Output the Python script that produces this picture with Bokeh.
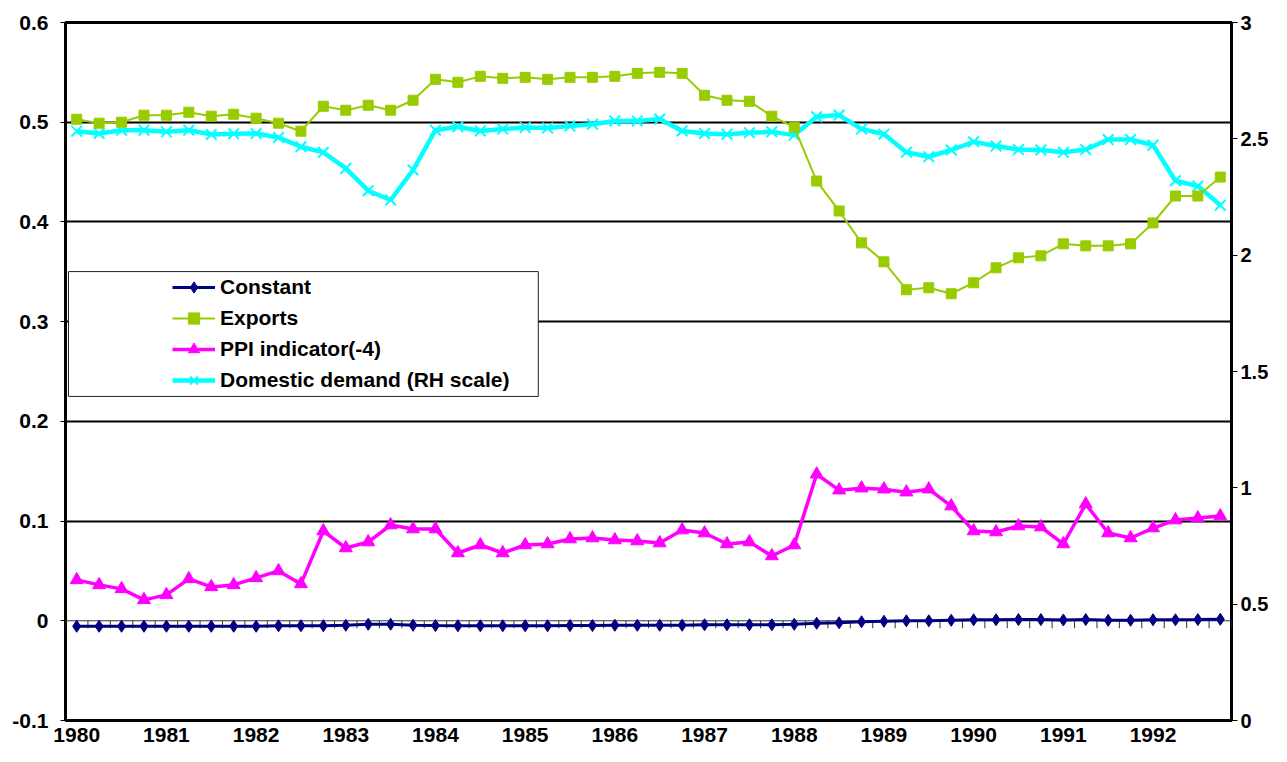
from bokeh.plotting import figure
from bokeh.models import (Range1d, LinearAxis, FixedTicker, Span, Legend, LegendItem)
from bokeh.embed import file_html
from bokeh.resources import INLINE

# ---------------- data ----------------
years = [str(y) for y in range(1980, 1993)]
quarters = [f"{y}Q{q}" for y in range(1980, 1993) for q in range(1, 5)]

constant = [-0.0055, -0.0055, -0.0055, -0.0055, -0.0055, -0.0055, -0.0055, -0.0055, -0.0055,
            -0.005, -0.005, -0.005, -0.0045, -0.0035, -0.0035, -0.0045, -0.0048,
            -0.005, -0.005, -0.005, -0.005, -0.005, -0.0048, -0.0048,
            -0.0045, -0.0045, -0.0045, -0.0045, -0.004, -0.004, -0.004, -0.004,
            -0.0035, -0.0025, -0.002, -0.001, -0.0005, 0.0, 0.0, 0.0005,
            0.001, 0.001, 0.0012, 0.0012, 0.0008, 0.0012, 0.0005, 0.0005,
            0.001, 0.001, 0.0012, 0.0015]

exports = [0.503, 0.499, 0.500, 0.507, 0.507, 0.510, 0.506, 0.508, 0.504, 0.499, 0.491, 0.516,
           0.512, 0.517, 0.512, 0.522, 0.543, 0.540, 0.546, 0.544, 0.545, 0.543, 0.545, 0.545,
           0.546, 0.549, 0.550, 0.549, 0.527, 0.522, 0.521, 0.506, 0.495, 0.441, 0.411, 0.379,
           0.360, 0.332, 0.334, 0.328, 0.339, 0.354, 0.364, 0.366, 0.378, 0.376, 0.376, 0.378,
           0.399, 0.426, 0.426, 0.445]

ppi = [0.041, 0.036, 0.032, 0.021, 0.026, 0.042, 0.034, 0.036, 0.043, 0.050, 0.037,
       0.090, 0.073, 0.079, 0.096, 0.092, 0.092,
       0.068, 0.076, 0.068, 0.076, 0.077, 0.082, 0.083, 0.081, 0.080, 0.078,
       0.091, 0.088, 0.077, 0.079, 0.065, 0.076,
       0.147, 0.131, 0.133, 0.132, 0.129, 0.132, 0.115,
       0.090, 0.089, 0.095, 0.094, 0.077, 0.117, 0.088, 0.083, 0.093, 0.101, 0.103, 0.105]

domestic = [2.533, 2.523, 2.537, 2.537, 2.530, 2.537, 2.519, 2.522, 2.523, 2.506, 2.466, 2.442,
            2.373, 2.277, 2.237, 2.366, 2.537, 2.552,
            2.534, 2.542, 2.549, 2.547, 2.555, 2.563, 2.577, 2.577, 2.585, 2.534, 2.523, 2.520,
            2.526, 2.530, 2.516, 2.595, 2.602, 2.542, 2.520,
            2.442, 2.423, 2.452, 2.487, 2.469, 2.454, 2.452, 2.442, 2.454, 2.497, 2.497, 2.473,
            2.320, 2.297, 2.215]

left_ticks = [-0.1, 0.0, 0.1, 0.2, 0.3, 0.4, 0.5, 0.6]
left_labels = ["-0.1", "0", "0.1", "0.2", "0.3", "0.4", "0.5", "0.6"]
right_ticks = [0.0, 0.5, 1.0, 1.5, 2.0, 2.5, 3.0]
right_labels = ["0", "0.5", "1", "1.5", "2", "2.5", "3"]

labels = ["Constant", "Exports", "PPI indicator(-4)", "Domestic demand (RH scale)"]
colors = ["#000080", "#99CC00", "#FF00FF", "#00FFFF"]

# ---------------- figure ----------------
x = list(range(len(quarters)))
n = len(quarters)

FONT = "Liberation Sans"
FS = "21px"

p = figure(width=1271, height=746, output_backend="svg", toolbar_location=None,
           x_range=Range1d(-0.5, n - 0.5), y_range=Range1d(left_ticks[0], left_ticks[-1]),
           min_border_left=65, min_border_right=37, min_border_top=22, min_border_bottom=26)
p.extra_y_ranges = {"rh": Range1d(right_ticks[0], right_ticks[-1])}

p.background_fill_color = "white"
p.border_fill_color = "white"
p.outline_line_color = "black"
p.outline_line_width = 3

# grid
p.xgrid.visible = False
p.ygrid.ticker = FixedTicker(ticks=left_ticks[2:-1])
p.ygrid.grid_line_color = "black"
p.ygrid.grid_line_width = 2

# left axis
ya = p.yaxis[0]
ya.ticker = FixedTicker(ticks=left_ticks)
ya.major_label_overrides = dict(zip(left_ticks, left_labels))
ya.axis_line_color = None
ya.major_tick_out = 5
ya.major_tick_in = 0
ya.major_tick_line_color = "black"
ya.minor_tick_line_color = None
ya.major_label_standoff = 12
ya.major_label_text_font = FONT
ya.major_label_text_font_style = "bold"
ya.major_label_text_font_size = FS
ya.major_label_text_color = "black"

# right axis
ra = LinearAxis(y_range_name="rh", ticker=FixedTicker(ticks=right_ticks))
ra.major_label_overrides = dict(zip(right_ticks, right_labels))
ra.axis_line_color = None
ra.major_tick_out = 6
ra.major_tick_in = 0
ra.major_tick_line_color = "black"
ra.minor_tick_line_color = None
ra.major_label_standoff = 3
ra.major_label_text_font = FONT
ra.major_label_text_font_style = "bold"
ra.major_label_text_font_size = "20px"
ra.major_label_text_color = "black"
p.add_layout(ra, "right")

# bottom axis (year labels)
year_pos = [i for i, q in enumerate(quarters) if q.endswith("Q1")]
xa = p.xaxis[0]
xa.ticker = FixedTicker(ticks=year_pos)
xa.major_label_overrides = dict(zip(year_pos, years))
xa.axis_line_color = None
xa.major_tick_line_color = None
xa.major_tick_out = 0
xa.major_tick_in = 0
xa.minor_tick_line_color = None
xa.major_label_standoff = 7
xa.major_label_text_line_height = 0.8
xa.major_label_text_font = FONT
xa.major_label_text_font_style = "bold"
xa.major_label_text_font_size = FS
xa.major_label_text_color = "black"

# category axis line at zero with small ticks between categories
p.add_layout(Span(location=0, dimension="width", line_color="#333333", line_width=1, level="underlay"))
bounds = [i - 0.5 for i in range(n + 1)]
p.segment(x0=bounds, x1=bounds, y0=[0.0] * len(bounds), y1=[-0.0075] * len(bounds),
          line_color="#333333", line_width=1)

# legend box (white, covers gridline)
p.quad(left=[-0.367], right=[20.585], top=[0.3502], bottom=[0.2250],
       fill_color="white", line_color="#222222", line_width=1)

# series
l_dd = p.line(x, domestic, y_range_name="rh", line_color=colors[3], line_width=4.5)
s_dd = p.scatter(x, domestic, y_range_name="rh", marker="x", size=15,
                 line_color=colors[3], line_width=2)

l_c = p.line(x, constant, line_color=colors[0], line_width=3)
s_c = p.scatter(x, constant, marker="diamond", size=12, fill_color=colors[0], line_color=colors[0])

l_e = p.line(x, exports, line_color=colors[1], line_width=2)
s_e = p.scatter(x, exports, marker="square", size=10, fill_color=colors[1], line_color=colors[1])

l_p = p.line(x, ppi, line_color=colors[2], line_width=3.5)
s_p = p.scatter(x, ppi, marker="triangle", size=13, fill_color=colors[2], line_color=colors[2])

legend = Legend(items=[
    LegendItem(label=labels[0], renderers=[l_c, s_c]),
    LegendItem(label=labels[1], renderers=[l_e, s_e]),
    LegendItem(label=labels[2], renderers=[l_p, s_p]),
    LegendItem(label=labels[3], renderers=[l_dd, s_dd]),
], location=(107, 326), padding=0, margin=0, spacing=3,
    glyph_height=28, glyph_width=43, label_height=28, label_standoff=5,
    border_line_color=None, background_fill_alpha=0,
    label_text_font=FONT, label_text_font_style="bold", label_text_font_size=FS,
    label_text_color="black")
p.add_layout(legend)

open("out.html", "w").write(file_html(p, INLINE))
